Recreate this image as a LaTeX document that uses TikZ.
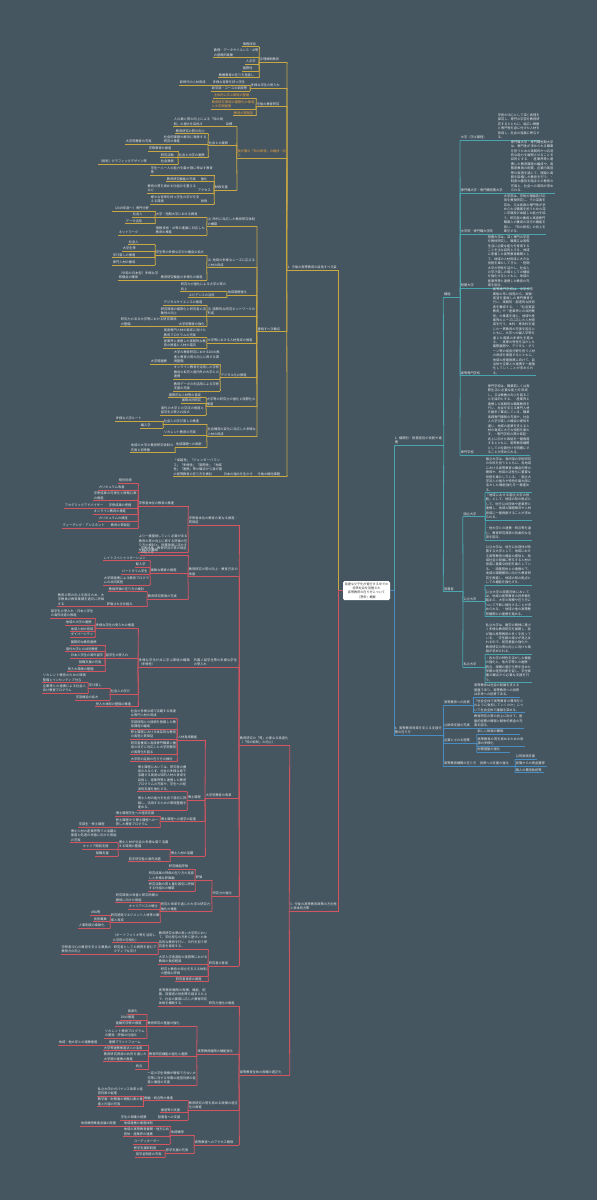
\documentclass[tikz,border=0pt]{standalone}
\usepackage{fontspec}
\newfontfamily\jp{Noto Sans CJK JP}
\XeTeXlinebreaklocale "ja"
\XeTeXlinebreakskip=0pt plus 0.5pt
\definecolor{bg}{HTML}{465661}
\definecolor{yl}{HTML}{C9A844}
\definecolor{cy}{HTML}{4AA6AE}
\definecolor{bl}{HTML}{4A8CC0}
\definecolor{rd}{HTML}{D25561}
\definecolor{tx}{HTML}{E4E8EA}
\definecolor{og}{HTML}{F0A33A}
\tikzset{
 nd/.style={inner xsep=0.7pt, inner ysep=1.1pt, anchor=south west, align=left, text=tx, font=\jp\fontsize{3.2}{4.4}\selectfont},
 ul/.style={line width=0.8pt},
}
\newcommand\mn[6]{\pgfmathsetmacro\tw{#4-#3-1.4}\node[nd,text width=\tw pt] (#2) at (#3,#5) {#6};\draw[#1,ul] (#2.south west) -- (#2.south east);}
\newcommand\lk[3]{\draw[#1,ul] (#2.south west) -- (#3.south east);}
\newcommand\rk[3]{\draw[#1,ul] (#2.south east) -- (#3.south west);}
\begin{document}
\begin{tikzpicture}[x=1pt,y=-1pt]
\fill[bg] (0,0) rectangle (597,1200);
\useasboundingbox (0,0) rectangle (597,1200);
% ---------- centre
\node[fill=white, rounded corners=1.5pt, text=black!80, font=\jp\fontsize{3.1}{4.3}\selectfont, align=center, minimum width=47pt, minimum height=19pt, inner sep=1pt] (ctr) at (366.5,590.5) {急速な少子化が進行する中での\\将来社会を見据えた\\高等教育の在り方について\\（答申）概要};
% ---------- yellow
\mn{yl}{Ym}{286.7}{338.3}{270}{1. 今後の高等教育の目指すべき姿}
\mn{yl}{Y1}{259}{286.7}{62.3}{文理横断教育}
\mn{yl}{a1}{242}{259}{46.7}{情報技術}
\mn{yl}{a2}{213}{259}{57.7}{数理・データサイエンス・AI等の基礎的素養}
\mn{yl}{a3}{245}{259}{64.3}{人文学}
\mn{yl}{a4}{242}{259}{71}{国際性}
\mn{yl}{a5}{218}{259}{77.7}{教養教育の在り方見直し}
\mn{yl}{Y2}{250}{286.7}{88.3}{多様な学生の受入れ}
\mn{yl}{b1}{212}{250}{85}{多様な背景を持つ学生}
\mn{yl}{b1a}{179}{212}{85}{新時代の人材育成}
\mn{yl}{b2}{211}{250}{91}{新学部・コースの新設等}
\mn{yl}{Y3}{256}{286.7}{106.7}{今後の教育研究}
\mn{yl}{c1}{213}{256}{98.3}{\color{og}主体的に学ぶ環境の整備}
\mn{yl}{c2}{211}{256}{109}{\color{og}教育研究環境の国際化の推進と大学間連携}
\mn{yl}{c3}{233}{256}{115.7}{\color{og}教育の質保証}
\mn{yl}{Y4}{236.7}{286.7}{158.3}{\color{og}我が国の「知の総和」の維持・向上}
\mn{yl}{d1}{225}{236.7}{126.7}{目標}
\mn{yl}{d1a}{173}{225}{126.7}{人の数と質の向上による「知の総和」の増大を目指す}
\mn{yl}{d2}{208}{236.7}{145.7}{社会との接続}
\mn{yl}{d2a}{175}{208}{133.7}{教育研究の質の向上}
\mn{yl}{d2b}{163}{208}{144.3}{社会的課題の解決に貢献する研究の推進}
\mn{yl}{d2b1}{125}{163}{144.3}{大学院教育の充実}
\mn{yl}{d2c}{178}{208}{157.7}{社会と大学の連携}
\mn{yl}{d2c1}{148}{178}{151}{学際教育の推進}
\mn{yl}{d2c2}{160}{178}{157.7}{研究活動}
\mn{yl}{d2c3}{160}{178}{164.3}{社会貢献}
\mn{yl}{d2c3a}{98}{160}{164.3}{（仮称）グラフィックデザイン等}
\mn{yl}{d3}{214}{236.7}{190}{財政支援}
\mn{yl}{d3a}{150}{214}{175}{学生一人一人の能力を最大限に伸ばす教育等}
\mn{yl}{d3b}{200}{214}{181.7}{強化}
\mn{yl}{d3b1}{166}{200}{181.7}{教育研究機能の充実}
\mn{yl}{d3c}{197}{214}{193.3}{アクセス}
\mn{yl}{d3c1}{146.7}{197}{193.3}{教育の質を高める仕組みを整えるなど}
\mn{yl}{d3d}{200}{214}{204.3}{財政}
\mn{yl}{d3d1}{150}{200}{204.3}{様々な背景を持つ学生の学びを支える環境}
\mn{yl}{Y5}{256.7}{286.7}{331.7}{重視すべき観点}
\mn{yl}{E1}{206.7}{256.7}{226.7}{(1) 時代に対応した教育研究体制の構築}
\mn{yl}{E1a}{155}{206.7}{217.3}{大学・短期大学における教育}
\mn{yl}{E1a1}{112}{155}{211}{（2019年度～）専門分野}
\mn{yl}{E1a2}{132}{155}{217.3}{社会人}
\mn{yl}{E1a3}{125}{155}{223.7}{データ活用}
\mn{yl}{E1b}{155}{206.7}{235}{情報技術・AI等の進展に対応した教育の推進}
\mn{yl}{E1b1}{118}{155}{235}{ネットワーク}
\mn{yl}{E2}{206.7}{256.7}{267.7}{(2) 地域の多様なニーズに応える人材の育成}
\mn{yl}{E2a}{155}{206.7}{255}{学生等の多様な学びの機会の拡大}
\mn{yl}{E2a1}{128}{155}{244.7}{社会人}
\mn{yl}{E2a2}{122}{155}{251}{大学生等}
\mn{yl}{E2a3}{112}{155}{257.7}{学び直しの推進}
\mn{yl}{E2a4}{112}{155}{265}{専門人材の養成}
\mn{yl}{E2b}{160}{206.7}{280}{教育研究機能の多様化の推進}
\mn{yl}{E2b1}{118}{160}{280}{（令和の日本型）多様な学修機会の確保}
\mn{yl}{E3}{226.7}{256.7}{295}{地域連携強化}
\mn{yl}{E3a}{180}{226.7}{291.7}{研究力の強化による大学の質の向上}
\mn{yl}{E3b}{188}{226.7}{297.7}{エビデンスの活用}
\mn{yl}{E4}{206.7}{256.7}{316}{(3) 国際的な研究ネットワークの形成}
\mn{yl}{E4a}{163}{206.7}{305}{デジタルサイエンスの推進}
\mn{yl}{E4b}{160}{206.7}{316}{研究環境の国際化と研究者の流動性の向上}
\mn{yl}{E4c}{178}{206.7}{326.7}{大学院教育の強化}
\mn{yl}{E4c1}{120}{178}{326.7}{研究力のある大学等における研究環境の整備}
\mn{yl}{E5}{206.7}{256.7}{343.3}{大学等における人材育成の推進}
\mn{yl}{E5a}{163}{206.7}{337.7}{高度専門人材の育成に向けた教育プログラムの充実}
\mn{yl}{E5b}{163}{206.7}{348.3}{産業界と連携した実践的な教育の推進と人材の還流}
\mn{yl}{E6}{220}{256.7}{377.7}{デジタル化の推進}
\mn{yl}{E6a}{173}{220}{364.3}{大学の教育研究におけるDXの推進と教育の質の向上に資する環境整備}
\mn{yl}{E6a1}{150}{173}{364.3}{大学間連携}
\mn{yl}{E6b}{173}{220}{379}{オンライン教育を活用した学修機会の拡充と国内外の大学との連携}
\mn{yl}{E6c}{173}{220}{391}{教育データの利活用による学修支援の充実}
\mn{yl}{E7}{206}{256.7}{406.7}{大学等の研究力の強化と国際化の推進}
\mn{yl}{E7a}{168}{206}{397.7}{国際的な人材等の育成}
\mn{yl}{E7b}{181}{206}{403.3}{国際共同研究}
\mn{yl}{E7c}{160}{206}{415}{海外の大学との交流の推進と留学生の受入れ拡大}
\mn{yl}{E8}{206.7}{256.7}{436.7}{社会構造の変化に対応した多様な人材の育成}
\mn{yl}{E8a}{163}{206.7}{424}{社会人の学び直しの推進}
\mn{yl}{E8a1}{115}{163}{421}{多様な入学ルート}
\mn{yl}{E8a2}{140}{163}{428}{編入学}
\mn{yl}{E8b}{163}{206.7}{435}{リカレント教育の充実}
\mn{yl}{E8c}{175}{206.7}{447.3}{地域課題への貢献}
\mn{yl}{E8c1}{130}{175}{452.7}{地域の大学の教育研究体制の充実と将来像}
\mn{yl}{Y6}{256.7}{286.7}{476.7}{今後の検討課題}
\mn{yl}{Y6a}{223}{256.7}{476.7}{日本の強みを生かす}
\mn{yl}{Y6b}{172.7}{223}{476.7}{「卓越性」「ジェンダーバランス」「多様性」「国際性」「地域性」「連携」等の観点から我が国の高等教育の在り方を検討}
\foreach \c in {Y1,Y2,Y3,Y4,Y5,Y6}{\lk{yl}{Ym}{\c}}
\foreach \c in {a1,a2,a3,a4,a5}{\lk{yl}{Y1}{\c}}
\foreach \c in {b1,b2}{\lk{yl}{Y2}{\c}}
\lk{yl}{b1}{b1a}
\foreach \c in {c1,c2,c3}{\lk{yl}{Y3}{\c}}
\foreach \c in {d1,d2,d3}{\lk{yl}{Y4}{\c}}
\lk{yl}{d1}{d1a}
\foreach \c in {d2a,d2b,d2c}{\lk{yl}{d2}{\c}}
\lk{yl}{d2b}{d2b1}
\foreach \c in {d2c1,d2c2,d2c3}{\lk{yl}{d2c}{\c}}
\lk{yl}{d2c3}{d2c3a}
\foreach \c in {d3a,d3b,d3c,d3d}{\lk{yl}{d3}{\c}}
\lk{yl}{d3b}{d3b1}\lk{yl}{d3c}{d3c1}\lk{yl}{d3d}{d3d1}
\foreach \c in {E1,E2,E3,E4,E5,E6,E7,E8}{\lk{yl}{Y5}{\c}}
\foreach \c in {E1a,E1b}{\lk{yl}{E1}{\c}}
\foreach \c in {E1a1,E1a2,E1a3}{\lk{yl}{E1a}{\c}}
\lk{yl}{E1b}{E1b1}
\foreach \c in {E2a,E2b}{\lk{yl}{E2}{\c}}
\foreach \c in {E2a1,E2a2,E2a3,E2a4}{\lk{yl}{E2a}{\c}}
\lk{yl}{E2b}{E2b1}
\foreach \c in {E3a,E3b}{\lk{yl}{E3}{\c}}
\foreach \c in {E4a,E4b,E4c}{\lk{yl}{E4}{\c}}
\lk{yl}{E4c}{E4c1}
\foreach \c in {E5a,E5b}{\lk{yl}{E5}{\c}}
\foreach \c in {E6a,E6b,E6c}{\lk{yl}{E6}{\c}}
\lk{yl}{E6a}{E6a1}
\foreach \c in {E7a,E7b,E7c}{\lk{yl}{E7}{\c}}
\foreach \c in {E8a,E8b,E8c}{\lk{yl}{E8}{\c}}
\foreach \c in {E8a1,E8a2}{\lk{yl}{E8a}{\c}}
\lk{yl}{E8c}{E8c1}
\lk{yl}{Y6}{Y6a}\lk{yl}{Y6a}{Y6b}
% ---------- cyan
\mn{cy}{Cm}{394}{443.3}{445}{2. 機関別・設置者別の役割や連携}
\mn{cy}{K}{443.3}{460}{297.3}{機能}
\mn{cy}{K1}{460}{497}{140}{大学（学士課程）}
\mn{cy}{K1a}{497}{540}{140}{学術の中心として深く真理を探究し、専門の学芸を教授研究するとともに、幅広い教養と専門性を身に付けた人材を育成し、社会の発展に寄与する。}
\mn{cy}{K2}{460}{510}{193.3}{専門職大学・専門職短期大学}
\mn{cy}{K2a}{510}{555}{193.3}{専門職大学・専門職短期大学は、専門性が求められる職業を担うための実践的かつ応用的な能力を展開させることを目的とする。・産業界等と連携した教育課程の編成や、実務家教員の配置、企業内実習等の実施を通じて、理論と実践を架橋した教育を行う。・制度の趣旨を踏まえた教育の充実と、社会への周知が求められる。}
\mn{cy}{K3}{460}{503}{234}{大学院・専門職大学院}
\mn{cy}{K3a}{503}{546}{234}{大学院は、学術の理論及び応用を教授研究し、その深奥を究め、又は高度の専門性が求められる職業を担うための深い学識及び卓越した能力を培う。研究者の養成と高度専門職業人の養成の双方の機能を担い、「知の総和」の向上を牽引する。}
\mn{cy}{K4}{460}{487}{288.3}{短期大学}
\mn{cy}{K4a}{487}{530}{288.3}{短期大学は、深く専門の学芸を教授研究し、職業又は実際生活に必要な能力を育成することを主な目的とする。地域に密着した高等教育機関として、地域の人材育成に大きな役割を果たしてきた。・短期大学の特性を活かし、社会人の学び直しの場としての機能を強化するとともに、地域の産業界等と連携した教育の充実を図る。}
\mn{cy}{K5}{460}{492}{375.7}{高等専門学校}
\mn{cy}{K5a}{492}{536}{375.7}{高等専門学校は、中学校卒業後の早い段階から、実験・実習を重視した専門教育を行い、実践的・創造的な技術者を養成する。・「社会実装教育」や「産業界との共同教育」の推進を通じ、地域や産業界のニーズに応じた人材育成を行う。本科・専攻科を通じた一貫教育の充実を図るとともに、大学への編入学等を通じた進路の多様化を進める。・高専の特性を活かした国際展開や、デジタル・グリーン等の成長分野を担う人材の育成を推進するとともに、地域の産業振興に向けて、自治体や企業との連携を一層強化していくことが求められる。}
\mn{cy}{K6}{460}{487}{455}{専門学校}
\mn{cy}{K6a}{487}{530}{455}{専門学校は、職業若しくは実際生活に必要な能力を育成し、又は教養の向上を図ることを目的とする。・産業界と連携した実践的な職業教育を行い、社会を支える専門人材を数多く輩出している。職業実践専門課程の充実や、社会人の学び直しの機会の提供を通じ、地域の産業を支える人材の育成に大きな役割を果たす。・専門学校の質の保証・向上に向けた取組を一層推進するとともに、高等教育機関としての位置付けを明確にすることが求められる。}
\mn{cy}{S}{443.3}{462.7}{591.7}{設置者}
\mn{cy}{S1}{462.7}{485}{516.7}{国立大学}
\mn{cy}{S1a}{485}{532}{492.7}{国立大学は、我が国の学術研究の中核を担うとともに、各地域における高等教育の機会均等の確保や、地域の活性化に重要な役割を果たしている。・国立大学法人の強みや特色を最大限に活かした機能強化を一層進める。}
\mn{cy}{S1b}{485}{532}{520}{「地域における国立大学の役割」として、地域の知の拠点として、地方公共団体や産業界と連携し、地域の課題解決や人材育成に一層貢献することが求められる。}
\mn{cy}{S1c}{485}{532}{540}{・他大学との連携・統合等を通じ、教育研究資源の効果的な活用を図る。}
\mn{cy}{S2}{462.7}{485}{601.7}{公立大学}
\mn{cy}{S2a}{485}{531.7}{585}{公立大学は、地方公共団体が設置する大学として、地域における高等教育の機会の提供と、地域社会の発展に寄与する人材の育成に重要な役割を果たしている。・設置団体との連携の下、地域の課題解決に向けた教育研究を推進し、地域の知の拠点としての機能を強化する。}
\mn{cy}{S2b}{485}{531.7}{616.7}{公立大学の設置団体においては、地域の高等教育の将来像を踏まえ、大学の規模や在り方について不断に検討することが求められる。・地域の他の高等教育機関との連携を進める。}
\mn{cy}{S3}{462.7}{485}{667.3}{私立大学}
\mn{cy}{S3a}{485}{531.7}{654.3}{私立大学は、建学の精神に基づく多様な教育研究を展開し、我が国の高等教育の多くを担っている。・学生数の減少が見込まれる中で、経営基盤の強化や、教育研究の質の向上に向けた取組が求められる。}
\mn{cy}{S3b}{485}{531.7}{682.7}{・各大学の特色を活かした機能の強化と、他大学等との連携・統合、規模の適正化等を含めた早期の経営判断を促し、学生保護の観点から必要な支援を行う。}
\rk{cy}{Cm}{K}\rk{cy}{Cm}{S}
\foreach \c in {K1,K2,K3,K4,K5,K6}{\rk{cy}{K}{\c}}
\rk{cy}{K1}{K1a}\rk{cy}{K2}{K2a}\rk{cy}{K3}{K3a}\rk{cy}{K4}{K4a}\rk{cy}{K5}{K5a}\rk{cy}{K6}{K6a}
\foreach \c in {S1,S2,S3}{\rk{cy}{S}{\c}}
\foreach \c in {S1a,S1b,S1c}{\rk{cy}{S1}{\c}}
\foreach \c in {S2a,S2b}{\rk{cy}{S2}{\c}}
\foreach \c in {S3a,S3b}{\rk{cy}{S3}{\c}}
% ---------- blue
\mn{bl}{Bm}{394}{443.3}{735}{4. 高等教育改革を支える支援方策の在り方}
\mn{bl}{B1}{443.3}{473.3}{705}{高等教育への投資}
\mn{bl}{B1a}{473.3}{520}{697.3}{高等教育は社会の発展を支える基盤であり、高等教育への投資は未来への投資である。}
\mn{bl}{B1b}{473.3}{525}{712.7}{「社会全体で高等教育の費用をどのように負担していくのか」について社会全体で議論を深める。}
\mn{bl}{B2}{443.3}{473.3}{728.3}{公財政支援の充実}
\mn{bl}{B2a}{473.3}{523.3}{728.3}{教育研究の質の向上に向けて、基盤的経費の確保と競争的資金の充実を図る。}
\mn{bl}{B3}{443.3}{476.7}{743.3}{必要とされる施策}
\mn{bl}{B3a}{476.7}{520}{734}{新しい財源の確保}
\mn{bl}{B3b}{476.7}{525}{746}{高等教育の質を高めるための財源の多様化}
\mn{bl}{B3c}{476.7}{510}{752.3}{財務基盤の強化}
\mn{bl}{B4}{443.3}{479}{766}{高等教育機関の在り方}
\mn{bl}{B4a}{479}{515}{766}{投資への支援の強化}
\mn{bl}{B4a1}{515}{537}{759.3}{公的財政支援}
\mn{bl}{B4a2}{515}{547}{766}{民間からの資金獲得}
\mn{bl}{B4a3}{515}{544}{772.7}{個人の費用負担等}
\foreach \c in {B1,B2,B3,B4}{\rk{bl}{Bm}{\c}}
\foreach \c in {B1a,B1b}{\rk{bl}{B1}{\c}}
\rk{bl}{B2}{B2a}
\foreach \c in {B3a,B3b,B3c}{\rk{bl}{B3}{\c}}
\rk{bl}{B4}{B4a}
\foreach \c in {B4a1,B4a2,B4a3}{\rk{bl}{B4a}{\c}}
% ---------- red
\mn{rd}{Rm}{289.3}{338.3}{911}{3. 今後の高等教育政策の方向性と具体的方策}
\mn{rd}{R1}{239}{289.3}{745}{教育研究の「質」の更なる高度化（「知の総和」の向上）}
\mn{rd}{R2}{239}{289.3}{1075.5}{高等教育全体の規模の適正化}
\mn{rd}{r11}{188}{239}{525}{学修者本位の教育の更なる推進・質保証}
\mn{rd}{r11a}{138}{188}{506}{学修者本位の教育の推進}
\mn{rd}{q11}{118}{138}{483.3}{個別指導}
\mn{rd}{q12}{98}{138}{490}{カリキュラム改善}
\mn{rd}{q13}{93}{138}{500.7}{学修成果の可視化と情報公表の推進}
\mn{rd}{q14}{108}{138}{508.3}{学修成果の把握}
\mn{rd}{q14a}{64}{108}{508.3}{アカデミックアドバイザー}
\mn{rd}{q15}{93}{138}{514}{オンライン教育の推進}
\mn{rd}{q16}{98}{138}{521}{カリキュラムの検証}
\mn{rd}{q17}{110}{138}{528.3}{教育の質保証}
\mn{rd}{q17a}{62}{110}{528.3}{ティーチング・アシスタント}
\mn{rd}{r11b}{138}{188}{552.7}{より一層重視していく必要がある教育の質の向上に資する評価の在り方の検討と、授業改善に活かす仕組みの構築}
\mn{rd}{r12}{188}{239}{576.7}{教育研究の質の向上・教育方法の改善}
\mn{rd}{r12a}{140}{188}{555}{学修成果・教育研究の質の保証の在り方}
\mn{rd}{r12b}{150}{188}{573.3}{柔軟な教育の推進}
\mn{rd}{q21}{103}{150}{560.7}{レイトスペシャリゼーション}
\mn{rd}{q22}{135}{150}{567.3}{転入学}
\mn{rd}{q23}{121}{150}{574}{パートタイム学生}
\mn{rd}{q24}{103}{150}{585}{大学間連携による教育プログラムの共同実施}
\mn{rd}{r12c}{147}{188}{599.3}{教育研究環境の充実}
\mn{rd}{q25}{108}{147}{591.7}{教員評価の在り方の検討}
\mn{rd}{q26}{106}{147}{606.7}{評価される仕組み}
\mn{rd}{q26a}{57}{106}{606.7}{教育の質の向上を図るため、大学教員の教育業績を適切に評価する}
\mn{rd}{r14}{193}{239}{667.3}{外国人留学生等の多様な学生の受入れ}
\mn{rd}{r14a}{138}{193}{667.3}{多様な学生が共に学ぶ環境の構築（多様性）}
\mn{rd}{s11}{95}{138}{628.3}{多様な学生の受入れの推進}
\mn{rd}{t11}{50}{95}{618.3}{留学生の受入れ・日本人学生の海外派遣の推進}
\mn{rd}{t12}{65}{95}{625}{地域の大学の連携}
\mn{rd}{t13}{70}{95}{631.7}{地域人材の育成}
\mn{rd}{t14}{70}{95}{637.3}{ダイバーシティ}
\mn{rd}{s12}{105}{138}{658.3}{留学生の受入れ}
\mn{rd}{t21}{70}{105}{645}{国際的な教育連携}
\mn{rd}{t22}{65}{105}{651.7}{海外大学との共同教育}
\mn{rd}{t23}{70}{105}{658.3}{日本人学生の海外留学}
\mn{rd}{t24}{78}{105}{665}{就職支援の充実}
\mn{rd}{t25}{67}{105}{671.7}{受入れ環境の整備}
\mn{rd}{s13}{110}{138}{694.3}{社会人の学び}
\mn{rd}{t31}{88}{110}{688.3}{学び直し}
\mn{rd}{t31a}{42}{88}{682.7}{リカレント教育のための環境整備とインセンティブ付与}
\mn{rd}{t31b}{42}{88}{693.3}{企業等との連携による社会人向け教育プログラム}
\mn{rd}{t32}{75}{110}{700}{学習機会の拡大}
\mn{rd}{s14}{95}{138}{706.7}{受入れ体制の整備の推進}
\mn{rd}{r15}{205}{239}{798.3}{大学院教育の改革}
\mn{rd}{r15a}{177}{205}{740}{人材育成機能}
\mn{rd}{m1}{130}{177}{718.3}{社会の多様な場で活躍する高度な専門人材の育成}
\mn{rd}{m2}{130}{177}{729.3}{学部段階との接続を意識した教育課程の編成}
\mn{rd}{m3}{130}{177}{739.3}{修士課程における体系的な教育の実施と質保証}
\mn{rd}{m4}{130}{177}{754.7}{研究者養成と高度専門職業人養成の双方に対応した大学院教育の実質化を図る}
\mn{rd}{m5}{130}{177}{761.7}{大学院の定員の在り方の検討}
\mn{rd}{r15b}{187}{205}{800}{博士課程}
\mn{rd}{n1}{137}{187}{791.7}{博士課程においては、研究者の養成のみならず、社会の多様な場で活躍する高度な知的人材の育成を目指し、産業界等と連携した教育プログラムの充実や、学生への経済的支援を強化する。}
\mn{rd}{n2}{137}{187}{810}{博士人材の能力を社会で適切に評価し、活用するための環境整備を進める。}
\mn{rd}{r15c}{160}{205}{821.7}{博士課程への進学の促進}
\mn{rd}{o1}{115}{160}{816}{博士課程学生への経済支援}
\mn{rd}{o2}{115}{160}{827.3}{修士課程から博士課程への一貫した教育プログラム}
\mn{rd}{o2a}{78}{115}{827.3}{学部生・修士課程}
\mn{rd}{r15d}{170}{205}{856}{博士人材の活躍}
\mn{rd}{u1}{118}{170}{849.3}{博士人材が社会の多様な場で活躍する環境の整備}
\mn{rd}{u1a}{70}{118}{842.7}{博士人材の産業界等での活躍の推進と処遇の改善に向けた取組の充実}
\mn{rd}{u1b}{82}{118}{849.3}{キャリア開発支援}
\mn{rd}{u1c}{95}{118}{856}{就職支援}
\mn{rd}{u2}{128}{170}{861.7}{若手研究者の海外派遣}
\mn{rd}{r16}{211.7}{239}{896}{研究力の強化}
\mn{rd}{r16a}{195}{211.7}{880}{評価}
\mn{rd}{v1}{168}{195}{869.3}{研究機能評価}
\mn{rd}{v2}{148}{195}{880.7}{研究成果の評価の在り方の見直しと多様な評価軸}
\mn{rd}{v3}{148}{195}{891}{研究活動の質と量を適切に評価する仕組みの構築}
\mn{rd}{r16b}{160}{211.7}{911.7}{研究の改革を通じた大学の研究力強化の推進}
\mn{rd}{w1}{115}{160}{902.7}{研究環境の改善と研究時間の確保に向けた取組}
\mn{rd}{w2}{128}{160}{909.3}{キャリアパスの確立}
\mn{rd}{w3}{110}{160}{922.7}{研究開発マネジメント人材等の確保と育成}
\mn{rd}{w3a}{90}{110}{915}{URA等}
\mn{rd}{w3b}{93}{110}{921.7}{技術職員}
\mn{rd}{w3c}{78}{110}{928.3}{人事制度の柔軟化}
\mn{rd}{r17}{208}{239}{966}{研究者の育成}
\mn{rd}{r17a}{158}{208}{949.3}{教育研究水準の高い大学院において、学位授与の方針に基づいた体系的な教育を行い、次代を担う研究者を育成する。}
\mn{rd}{x1}{112}{158}{942.7}{（ポートフォリオ等を活用した学修の可視化）}
\mn{rd}{x2}{113}{158}{954.3}{研究者としての資質を育むアクティブな学び}
\mn{rd}{x2a}{60.7}{113}{954.3}{学修者中心の教育を支える教員の教育力の向上}
\mn{rd}{r17b}{158}{208}{964}{大学入学者選抜の実施等における教員の負担軽減}
\mn{rd}{r17c}{160}{208}{976}{研究と教育の両立を支える体制の整備と評価}
\mn{rd}{r17d}{175}{208}{981.7}{研究者育成の推進}
\mn{rd}{r21}{208}{239}{1006}{研究力強化の推進}
\mn{rd}{r21a}{158}{208}{1006}{高等教育機関の規模、機能、配置、設置者の役割等を踏まえた上で、社会の要請に応じた教育研究体制を構築する。}
\mn{rd}{r22}{196.7}{239}{1054}{高等教育機関の機能強化}
\mn{rd}{r22a}{146.7}{196.7}{1026}{教育研究の基盤の強化}
\mn{rd}{y1}{127}{146.7}{1014}{高度化}
\mn{rd}{y2}{120}{146.7}{1020}{DXの推進}
\mn{rd}{y3}{115}{146.7}{1026}{能動的学修の推進}
\mn{rd}{y4}{104}{146.7}{1038.3}{リカレント教育プログラムの開発・評価の仕組み}
\mn{rd}{r22b}{148.3}{196.7}{1056.7}{教育研究機能の強化と連携}
\mn{rd}{z1}{108}{148.3}{1045}{連携プラットフォーム}
\mn{rd}{z1a}{58}{108}{1045}{地域・他大学との連携推進}
\mn{rd}{z2}{103}{148.3}{1050.7}{大学等連携推進法人の活用}
\mn{rd}{z3}{103}{148.3}{1061.7}{教育研究資源の共有を通じた大学間の連携の推進}
\mn{rd}{z4}{135}{148.3}{1069.3}{統合}
\mn{rd}{r22c}{146.7}{196.7}{1085}{一定の学生規模が確保できない大学等に対する早期の経営判断の促進と撤退の支援}
\mn{rd}{r23}{188}{239}{1110}{教育研究の質を高める規模の適正化の推進}
\mn{rd}{r23a}{143.3}{188}{1100.7}{再編・統合等の推進}
\mn{rd}{g1}{97}{143.3}{1096}{私立大学のガバナンス改革と経営判断の促進}
\mn{rd}{g2}{97}{143.3}{1106.7}{教学面・財務面の情報公表の推進と内容の充実}
\mn{rd}{r23b}{160}{188}{1112.7}{撤退等の支援}
\mn{rd}{r23c}{157}{188}{1120}{設置者への支援}
\mn{rd}{g3}{120}{157}{1120}{学生の保護の措置}
\mn{rd}{r24}{194}{239}{1145}{高等教育へのアクセス確保}
\mn{rd}{r24a}{170}{194}{1135}{地域構想}
\mn{rd}{h1}{123}{170}{1126}{地域連携の推進体制}
\mn{rd}{h1a}{80}{123}{1126}{地域構想推進会議の設置}
\mn{rd}{h2}{123}{170}{1136.7}{地域の高等教育機関・地方公共団体・産業界の連携}
\mn{rd}{h3}{133}{170}{1144}{コーディネーター}
\mn{rd}{r24b}{165}{194}{1153.3}{修学支援の充実}
\mn{rd}{h4}{133}{165}{1150.7}{修学支援新制度}
\mn{rd}{h5}{135}{165}{1157.3}{奨学金制度の充実}
\lk{rd}{Rm}{R1}\lk{rd}{Rm}{R2}
\foreach \c in {r11,r12,r14,r15,r16,r17}{\lk{rd}{R1}{\c}}
\foreach \c in {r11a,r11b}{\lk{rd}{r11}{\c}}
\foreach \c in {q11,q12,q13,q14,q15,q16,q17}{\lk{rd}{r11a}{\c}}
\lk{rd}{q14}{q14a}\lk{rd}{q17}{q17a}
\foreach \c in {r12a,r12b,r12c}{\lk{rd}{r12}{\c}}
\foreach \c in {q21,q22,q23,q24}{\lk{rd}{r12b}{\c}}
\foreach \c in {q25,q26}{\lk{rd}{r12c}{\c}}
\lk{rd}{q26}{q26a}
\lk{rd}{r14}{r14a}
\foreach \c in {s11,s12,s13,s14}{\lk{rd}{r14a}{\c}}
\foreach \c in {t11,t12,t13,t14}{\lk{rd}{s11}{\c}}
\foreach \c in {t21,t22,t23,t24,t25}{\lk{rd}{s12}{\c}}
\foreach \c in {t31,t32}{\lk{rd}{s13}{\c}}
\foreach \c in {t31a,t31b}{\lk{rd}{t31}{\c}}
\foreach \c in {r15a,r15b,r15c,r15d}{\lk{rd}{r15}{\c}}
\foreach \c in {m1,m2,m3,m4,m5}{\lk{rd}{r15a}{\c}}
\foreach \c in {n1,n2}{\lk{rd}{r15b}{\c}}
\foreach \c in {o1,o2}{\lk{rd}{r15c}{\c}}
\lk{rd}{o2}{o2a}
\foreach \c in {u1,u2}{\lk{rd}{r15d}{\c}}
\foreach \c in {u1a,u1b,u1c}{\lk{rd}{u1}{\c}}
\foreach \c in {r16a,r16b}{\lk{rd}{r16}{\c}}
\foreach \c in {v1,v2,v3}{\lk{rd}{r16a}{\c}}
\foreach \c in {w1,w2,w3}{\lk{rd}{r16b}{\c}}
\foreach \c in {w3a,w3b,w3c}{\lk{rd}{w3}{\c}}
\foreach \c in {r17a,r17b,r17c,r17d}{\lk{rd}{r17}{\c}}
\foreach \c in {x1,x2}{\lk{rd}{r17a}{\c}}
\lk{rd}{x2}{x2a}
\foreach \c in {r21,r22,r23,r24}{\lk{rd}{R2}{\c}}
\lk{rd}{r21}{r21a}
\foreach \c in {r22a,r22b,r22c}{\lk{rd}{r22}{\c}}
\foreach \c in {y1,y2,y3,y4}{\lk{rd}{r22a}{\c}}
\foreach \c in {z1,z2,z3,z4}{\lk{rd}{r22b}{\c}}
\lk{rd}{z1}{z1a}
\foreach \c in {r23a,r23b,r23c}{\lk{rd}{r23}{\c}}
\foreach \c in {g1,g2}{\lk{rd}{r23a}{\c}}
\lk{rd}{r23c}{g3}
\foreach \c in {r24a,r24b}{\lk{rd}{r24}{\c}}
\foreach \c in {h1,h2,h3}{\lk{rd}{r24a}{\c}}
\lk{rd}{h1}{h1a}
\foreach \c in {h4,h5}{\lk{rd}{r24b}{\c}}
% ---------- trunk connectors
\draw[yl,ul] (ctr.west) -| (Ym.south east);
\draw[rd,ul] (ctr.west) -| (Rm.south east);
\draw[cy,ul] (ctr.east) -| (Cm.south west);
\draw[bl,ul] (ctr.east) -| (Bm.south west);
\end{tikzpicture}
\end{document}
